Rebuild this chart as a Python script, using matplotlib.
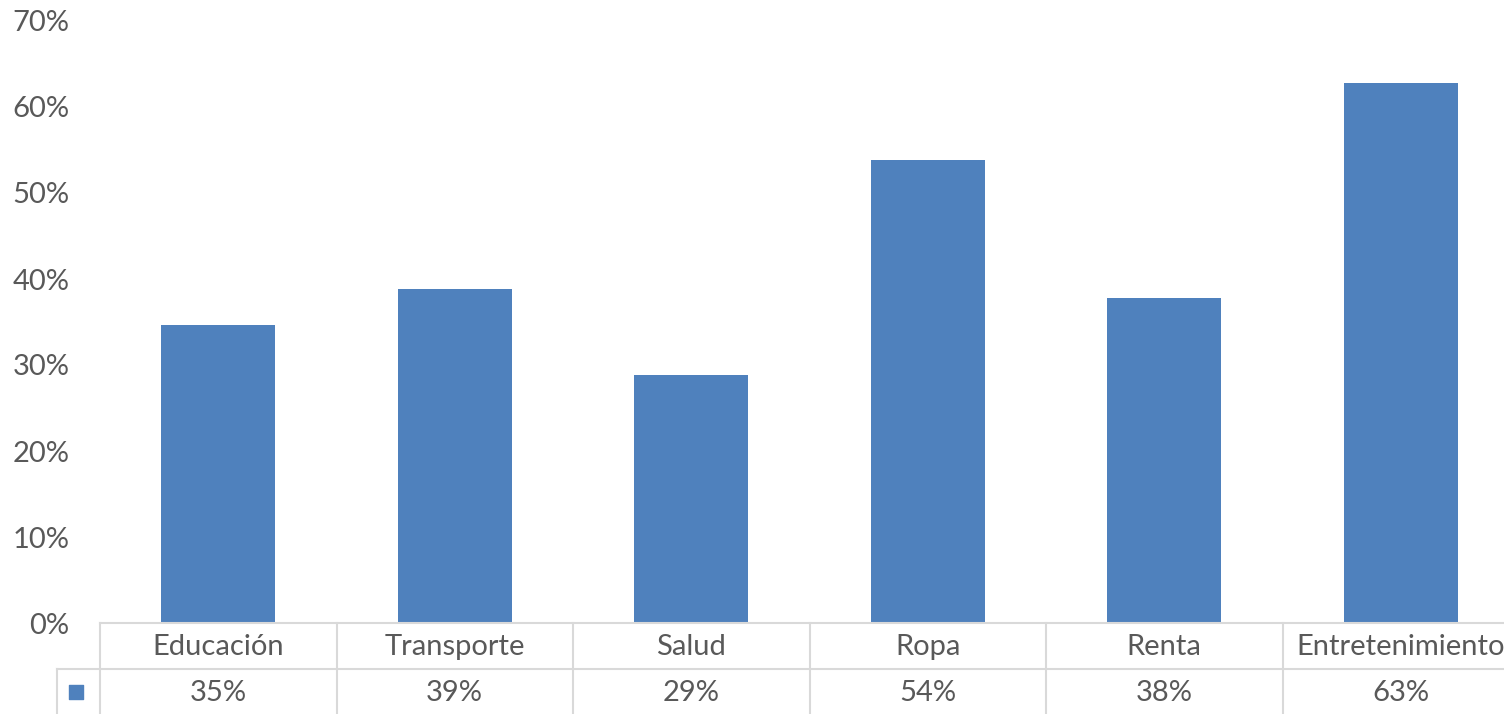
import matplotlib.pyplot as plt
import matplotlib.ticker as mtick

categorias = ['Educación', 'Transporte', 'Salud', 'Ropa', 'Renta', 'Entretenimiento']
valores = [0.347, 0.388, 0.288, 0.538, 0.378, 0.628]
etiquetas = ['35%', '39%', '29%', '54%', '38%', '63%']

azul = '#4F81BD'
gris_texto = '#595959'
gris_linea = '#D9D9D9'

plt.rcParams['font.family'] = ['Lato', 'DejaVu Sans']

fig = plt.figure(figsize=(15.04, 7.14), dpi=100)
ax = fig.add_axes([100/1504, 1 - 623/714, 1419/1504, 602/714])

x = range(len(categorias))
ax.bar(x, valores, width=0.48, color=azul)

ax.set_xlim(-0.5, len(categorias) - 0.5)
ax.set_ylim(0, 0.7)
ax.yaxis.set_major_locator(mtick.MultipleLocator(0.1))
ax.yaxis.set_major_formatter(mtick.PercentFormatter(1.0, decimals=0))
ax.tick_params(axis='y', length=0, pad=22, labelsize=21, labelcolor=gris_texto)
ax.set_xticks([])
for s in ax.spines.values():
    s.set_visible(False)

# tabla de datos debajo del eje
px = 0.7 / 602
y_fila = -46 * px
y_fin = -100 * px
n = len(categorias)
ax.plot([-0.5, n - 0.5], [0, 0], color=gris_linea, lw=1.5, clip_on=False)
ax.plot([-0.5 - 43/236.5, n - 0.5], [y_fila, y_fila], color=gris_linea, lw=1.5, clip_on=False)
for i in range(n + 1):
    ax.plot([i - 0.5, i - 0.5], [0, y_fin], color=gris_linea, lw=1.5, clip_on=False)
ax.plot([-0.5 - 43/236.5] * 2, [y_fila, y_fin], color=gris_linea, lw=1.5, clip_on=False)

for i, (c, e) in enumerate(zip(categorias, etiquetas)):
    ax.text(i, -24 * px, c, ha='center', va='center', fontsize=21, color=gris_texto, clip_on=False)
    ax.text(i, -70 * px, e, ha='center', va='center', fontsize=21, color=gris_texto, clip_on=False)

ax.scatter([-0.5 - 24/236.5], [-69 * px], marker='s', s=90, color=azul, clip_on=False)

fig.savefig('out.png', dpi=100)
